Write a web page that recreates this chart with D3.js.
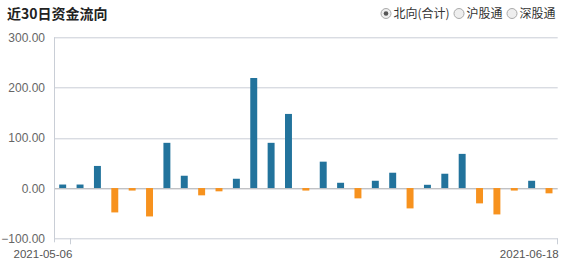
<!DOCTYPE html>
<html lang="zh">
<head>
<meta charset="utf-8">
<script src="https://d3js.org/d3.v7.min.js"></script>
<style>
  body { margin: 0; background: #fff; }
  text { font-family: Arial, "Liberation Sans", "Noto Sans CJK SC", sans-serif; }
</style>
</head>
<body>
<div id="chart"></div>
<script>
    // data (northbound net flow, 亿元)
    const dates = ["2021-05-06", "2021-05-07", "2021-05-10", "2021-05-11", "2021-05-12", "2021-05-13",
        "2021-05-14", "2021-05-17", "2021-05-20", "2021-05-21", "2021-05-24", "2021-05-25",
        "2021-05-26", "2021-05-27", "2021-05-28", "2021-05-31", "2021-06-01", "2021-06-02",
        "2021-06-03", "2021-06-04", "2021-06-07", "2021-06-08", "2021-06-09", "2021-06-10",
        "2021-06-11", "2021-06-15", "2021-06-16", "2021-06-17", "2021-06-18"];
    const flows = [7, 7, 44, -48.5, -5, -56.5, 90, 24.5, -14.5, -6.5, 18.5, 219, 90, 147.5,
        -5, 52.5, 10.5, -20.5, 14.5, 30.5, -40.5, 6.5, 28.5, 68, -30.5, -52.5, -5, 14.5, -10.5];
    const yTicks = [-100, 0, 100, 200, 300];
    const shownDates = ["2021-05-06", "2021-06-18"];
    const options = ["北向(合计)", "沪股通", "深股通"];

    const W = 564, H = 268;
    const margin = { top: 37.3, right: 6.3, bottom: 29.7, left: 54 };
    const width = W - margin.left - margin.right,
        height = H - margin.top - margin.bottom;

    const svg = d3.select("#chart").append("svg")
        .attr("width", W).attr("height", H);

    // title
    svg.append("text")
        .attr("x", 7).attr("y", 19)
        .style("font-family", "'Noto Sans CJK SC', sans-serif")
        .style("font-size", "14px")
        .style("font-weight", "bold")
        .attr("fill", "#222")
        .text("近30日资金流向");

    // radio buttons
    const radioX = [386, 459, 512];
    options.forEach((o, i) => {
        svg.append("circle")
            .attr("cx", radioX[i]).attr("cy", 13.5).attr("r", 5)
            .attr("fill", "#eee").attr("stroke", "#aaa");
        if (i === 0) {
            svg.append("circle")
                .attr("cx", radioX[i]).attr("cy", 13.5).attr("r", 2.3)
                .attr("fill", "#555");
        }
        svg.append("text")
            .attr("x", radioX[i] + 7.5).attr("y", 18)
            .style("font-family", "'Noto Sans CJK SC', sans-serif")
            .style("font-size", "12px")
            .attr("fill", "#333")
            .text(o);
    });

    const g = svg.append("g")
        .attr("transform", `translate(${margin.left},${margin.top})`);

    const x = d3.scaleBand()
        .domain(dates)
        .range([0, width])
        .paddingInner(0.6)
        .paddingOuter(0.3);

    const y = d3.scaleLinear()
        .domain([-100, 300])
        .range([height, 0]);

    // grid lines + y labels
    g.append("g")
        .selectAll("line")
        .data(yTicks)
        .join("line")
        .attr("x1", 0).attr("x2", width)
        .attr("y1", d => Math.round(y(d)) + 0.5).attr("y2", d => Math.round(y(d)) + 0.5)
        .attr("stroke", d => d === 0 ? "#a7a9ad" : "#c9ced6");

    g.append("g")
        .selectAll("text")
        .data(yTicks)
        .join("text")
        .attr("x", -9).attr("y", d => y(d) + 4.5)
        .attr("text-anchor", "end")
        .style("font-size", "12px")
        .attr("fill", "#666")
        .text(d => d3.format(".2f")(d));

    // left axis line
    g.append("line")
        .attr("x1", 0.5).attr("x2", 0.5)
        .attr("y1", 0).attr("y2", height + 4)
        .attr("stroke", "#c9ced6");

    // bars
    g.selectAll("rect.bar")
        .data(flows)
        .join("rect")
        .attr("class", "bar")
        .attr("x", (d, i) => x(dates[i]))
        .attr("width", x.bandwidth())
        .attr("y", d => y(Math.max(0, d)))
        .attr("height", d => Math.abs(y(d) - y(0)))
        .attr("fill", d => d >= 0 ? "#22739c" : "#f7921e");

    // date ticks at the end of each shown band
    const tickX = d => x(d) + x.bandwidth() + x.step() * x.paddingInner() / 2;
    g.append("g")
        .selectAll("line")
        .data(shownDates)
        .join("line")
        .attr("x1", d => Math.round(tickX(d)) - 0.5).attr("x2", d => Math.round(tickX(d)) - 0.5)
        .attr("y1", height).attr("y2", height + 6)
        .attr("stroke", "#c9ced6");

    g.append("g")
        .selectAll("text")
        .data(shownDates)
        .join("text")
        .attr("x", d => tickX(d) + 1)
        .attr("y", height + 20)
        .attr("text-anchor", "end")
        .style("font-size", "11.5px")
        .attr("fill", "#555")
        .text(d => d);
</script>
</body>
</html>
